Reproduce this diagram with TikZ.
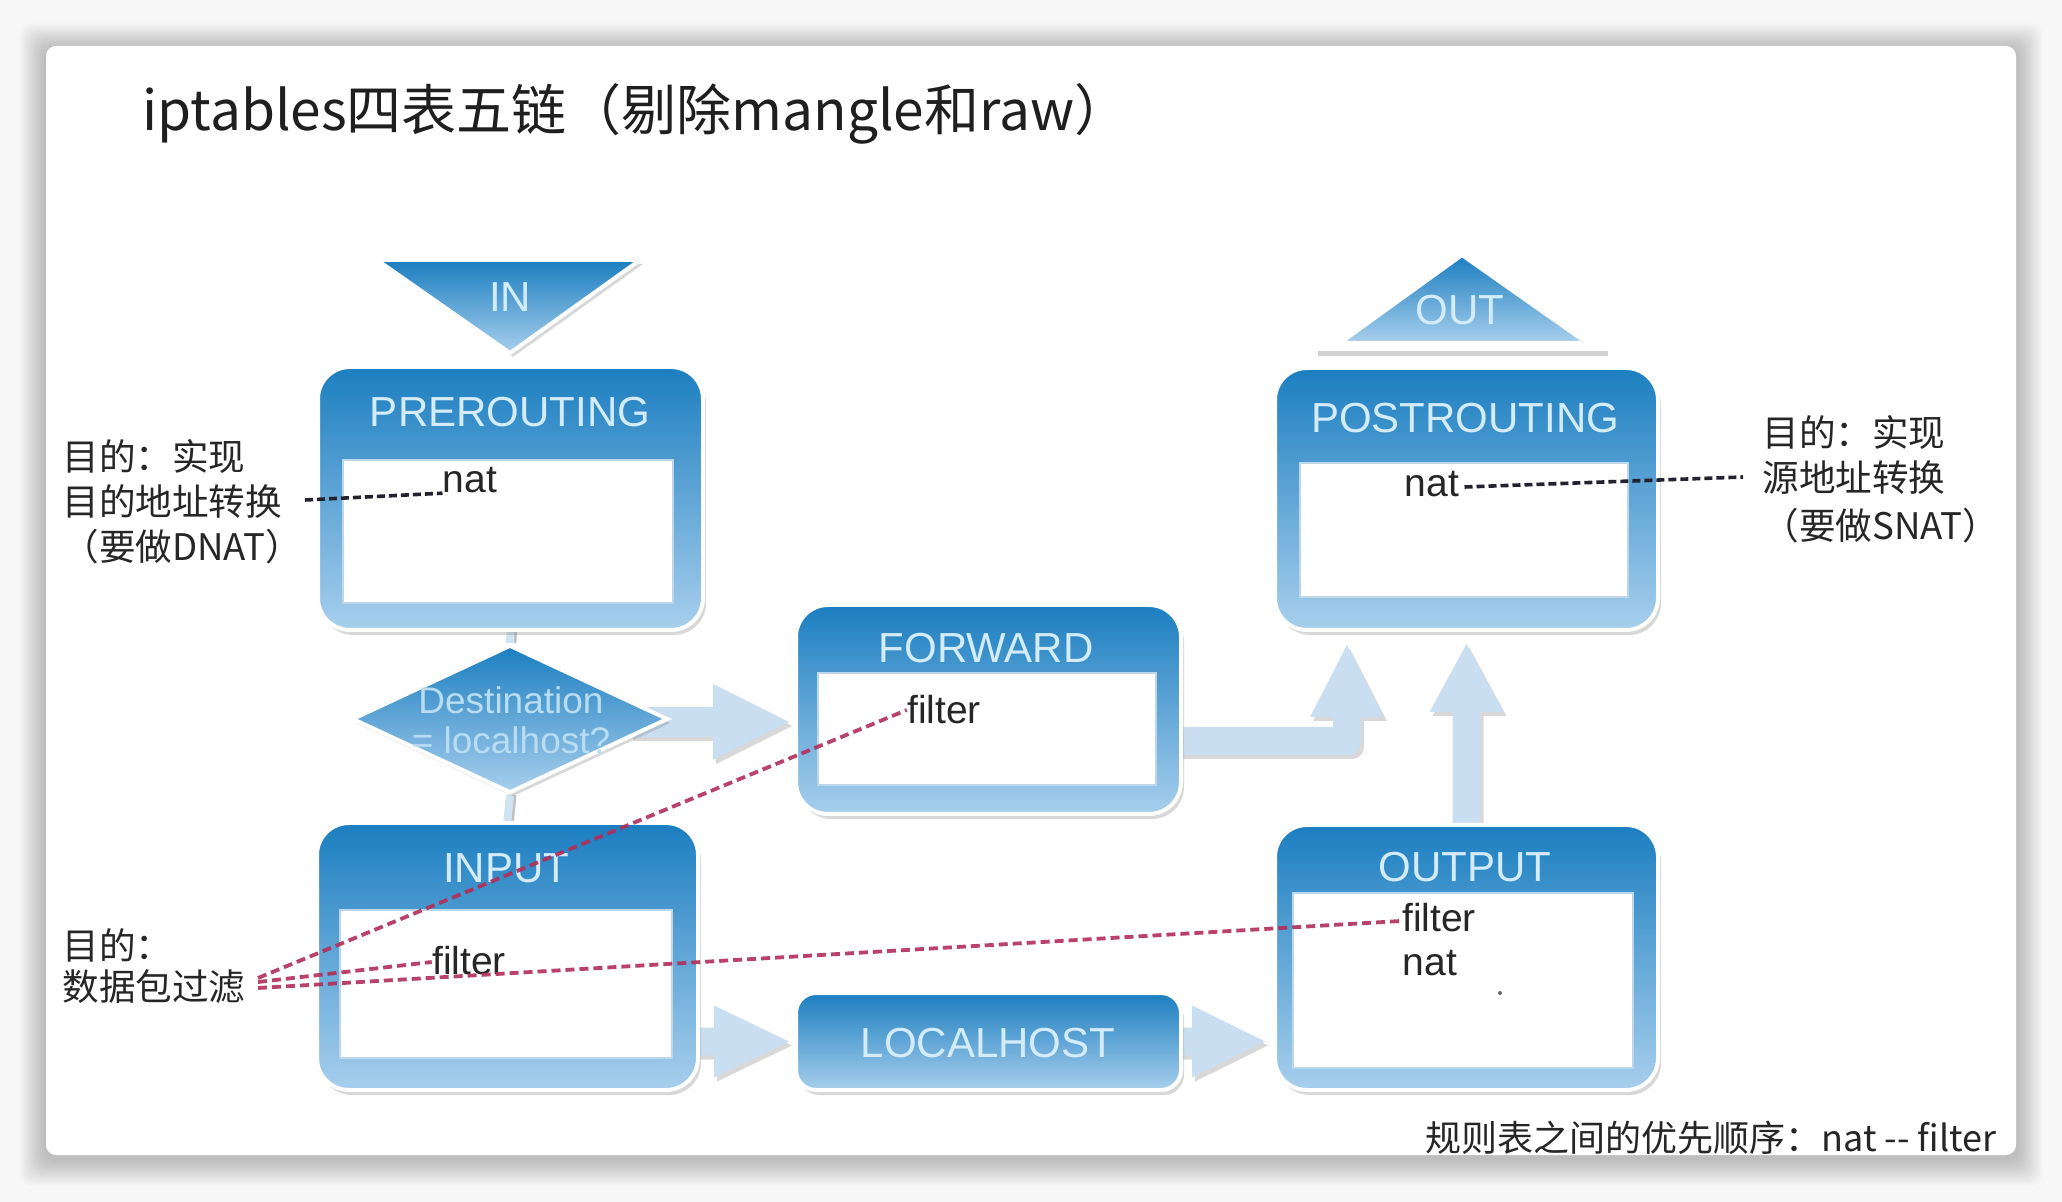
\documentclass[tikz,border=0pt]{standalone}
\usepackage{fontspec}
\setmainfont{Liberation Sans}
\newfontfamily\cjk{Noto Sans CJK SC}
\usetikzlibrary{shapes.geometric,shadows,calc}
\pgfdeclarelayer{bglayer}
\pgfdeclarelayer{arrlayer}
\pgfsetlayers{bglayer,arrlayer,main}
\definecolor{boxtop}{RGB}{27,126,192}
\definecolor{boxbot}{RGB}{168,207,237}
\definecolor{titletxt}{RGB}{212,236,250}
\definecolor{arrowfill}{RGB}{201,222,240}
\definecolor{boxedge}{RGB}{190,214,234}
\definecolor{darkdash}{RGB}{35,35,48}
\definecolor{reddashc}{RGB}{178,46,88}
\definecolor{stemcol}{RGB}{207,227,243}
\tikzset{
  chainbox/.style={rounded corners=16pt, draw=white, line width=2pt, top color=boxtop, bottom color=boxbot,
    drop shadow={shadow xshift=1.5pt, shadow yshift=-2.5pt, opacity=0.3}, inner sep=0pt},
  innerbox/.style={fill=white, draw=boxedge, line width=0.6pt, inner sep=0pt},
  ttl/.style={text=titletxt, font=\fontsize{21pt}{24pt}\selectfont, inner sep=0pt},
  entry/.style={text=black!85, font=\fontsize{19.5pt}{22pt}\selectfont, inner sep=0pt},
  ann/.style={font=\cjk\fontsize{18.3pt}{22pt}\selectfont, text=black!85, inner sep=0pt, anchor=west},
  blockarrow/.style={fill=arrowfill, drop shadow={shadow xshift=1.5pt, shadow yshift=-2pt, opacity=0.3}},
  blackdash/.style={draw=darkdash, line width=1.8pt, dash pattern=on 4pt off 2pt},
  reddash/.style={draw=reddashc, line width=1.9pt, dash pattern=on 4.5pt off 2.5pt, opacity=0.9},
  stem/.style={draw=stemcol, line width=4pt, preaction={draw=black!25, line width=4pt, transform canvas={xshift=1.2pt}}},
}
\begin{document}
\begin{tikzpicture}[x=0.5pt,y=-0.5pt]
\useasboundingbox (0,0) rectangle (2062,1202);
\begin{pgfonlayer}{bglayer}
  \fill[black!3] (0,0) rectangle (2062,1202);
  \foreach \i in {1,...,12}
    \fill[black, opacity=0.02, rounded corners=6pt] ({46-2.2*\i},{50-2.2*\i}) rectangle ({2016+2.2*\i},{1159+2.2*\i});
  \fill[white, rounded corners=5pt] (46,46) rectangle (2016,1155);
\end{pgfonlayer}

% title
\node[anchor=west, inner sep=0pt, font=\cjk\fontsize{27.5pt}{30pt}\selectfont, text=black!88] (title) at (142,114) {iptables四表五链（剔除mangle和raw）};

% IN / OUT triangles
\path[draw=white, line width=2pt, top color=boxtop, bottom color=boxbot,
  drop shadow={shadow xshift=1.5pt, shadow yshift=-2pt, opacity=0.3}]
  (377,260) -- (640,260) -- (510,353) -- cycle;
\node[ttl] (intxt) at (510,297) {IN};
\draw[black!18, line width=2.5pt] (1318,354) -- (1608,354);
\draw[white, line width=2.5pt] (1322,348) -- (1604,348);
\path[draw=white, line width=2pt, top color=boxtop, bottom color=boxbot]
  (1340,343) -- (1587,343) -- (1462,255) -- cycle;
\node[ttl] (outtxt) at (1460,310) {OUT};

% chain boxes
\node[chainbox, minimum width=192.5pt, minimum height=131.5pt] (pre) at (510.5,498.5) {};
\node[innerbox, minimum width=165pt, minimum height=71.5pt] (preIn) at (508,531.5) {};
\node[ttl] (pretitle) at (510,412) {PREROUTING};
\node[entry] (prenat) at (470,480) {nat};

\node[chainbox, minimum width=191.5pt, minimum height=131pt] (post) at (1466.5,499) {};
\node[innerbox, minimum width=164pt, minimum height=67pt] (postIn) at (1464,530) {};
\node[ttl] (posttitle) at (1465,418) {POSTROUTING};
\node[entry] (postnat) at (1432,484) {nat};

\node[diamond, minimum width=158pt, minimum height=74pt, inner sep=0pt, draw=white, line width=2pt,
  top color=boxtop, bottom color=boxbot, drop shadow={shadow xshift=1.5pt, shadow yshift=-2pt, opacity=0.3}] (dia) at (510,719) {};
\node[text=titletxt!85!boxtop, align=center, inner sep=0pt, font=\fontsize{18.5pt}{20pt}\selectfont] (diat) at (511,720) {Destination\\= localhost?};

\node[chainbox, minimum width=192.5pt, minimum height=104.5pt] (fwd) at (988.5,709.5) {};
\node[innerbox, minimum width=169pt, minimum height=56pt] (fwdIn) at (987,729) {};
\node[ttl] (fwdtitle) at (986,648) {FORWARD};
\node[entry] (fwdfilter) at (944,710) {filter};

\node[chainbox, minimum width=190.5pt, minimum height=133.5pt] (inp) at (507.5,956.5) {};
\node[innerbox, minimum width=166pt, minimum height=74pt] (inpIn) at (506,984) {};
\node[ttl] (inptitle) at (506,868) {INPUT};
\node[entry] (inpfilter) at (469,961) {filter};

\node[chainbox, rounded corners=10pt, minimum width=192.5pt, minimum height=48.5pt] (loc) at (988.5,1041.5) {};
\node[ttl] (loctitle) at (988,1043) {LOCALHOST};

\node[chainbox, minimum width=191.5pt, minimum height=132.5pt] (outp) at (1466.5,957.5) {};
\node[innerbox, minimum width=170pt, minimum height=87.5pt] (outIn) at (1463,980.5) {};
\node[ttl] (outtitle) at (1465,867) {OUTPUT};
\node[entry] (outfilter) at (1439,918) {filter};
\node[entry] (outnat) at (1430,963) {nat};
\fill[black!60] (1500,993) circle (1pt);

% arrows and stems
\begin{pgfonlayer}{arrlayer}
  \draw[stem] (pre.south) -- (dia.north);
  \draw[stem] (dia.south) -- (inp.north);
  % diamond -> forward
  \coordinate (a1s) at ($(dia.east)+(-40,3)$);
  \coordinate (a1t) at ($(fwd.west |- a1s)+(-5,0)$);
  \fill[blockarrow] ($(a1s)+(0,-15)$) -- ($(a1t)+(-76,-15)$) -- ($(a1t)+(-76,-38)$) -- (a1t)
    -- ($(a1t)+(-76,38)$) -- ($(a1t)+(-76,15)$) -- ($(a1s)+(0,15)$) -- cycle;
  % input -> localhost
  \coordinate (a2s) at ($(inp.east |- loc.west)+(-10,0)$);
  \coordinate (a2t) at ($(loc.west)+(-5,0)$);
  \fill[blockarrow] ($(a2s)+(0,-14)$) -- ($(a2t)+(-75,-14)$) -- ($(a2t)+(-75,-36)$) -- (a2t)
    -- ($(a2t)+(-75,36)$) -- ($(a2t)+(-75,14)$) -- ($(a2s)+(0,14)$) -- cycle;
  % localhost -> output
  \coordinate (a3s) at ($(loc.east)+(-10,0)$);
  \coordinate (a3t) at ($(outp.west |- loc.east)+(-8,0)$);
  \fill[blockarrow] ($(a3s)+(0,-14)$) -- ($(a3t)+(-73,-14)$) -- ($(a3t)+(-73,-36)$) -- (a3t)
    -- ($(a3t)+(-73,36)$) -- ($(a3t)+(-73,14)$) -- ($(a3s)+(0,14)$) -- cycle;
  % forward -> postrouting (bent)
  \coordinate (a4s) at ($(fwd.east)+(-10,31.5)$);
  \coordinate (a4t) at ($(post.south)+(-119.5,13)$);
  \coordinate (a4c) at (a4t |- a4s);
  \fill[blockarrow] ($(a4s)+(0,-14)$) -- ($(a4c)+(-14,-14)$) -- ($(a4t)+(-14,72)$) -- ($(a4t)+(-37,72)$)
    -- (a4t) -- ($(a4t)+(37,72)$) -- ($(a4t)+(14,72)$) [rounded corners=6pt] -- ($(a4c)+(14,14)$) [sharp corners]
    -- ($(a4s)+(0,14)$) -- cycle;
  % output -> postrouting
  \coordinate (a5s) at ($(outp.north)+(0,10)$);
  \coordinate (a5t) at ($(post.south)+(0,12)$);
  \fill[blockarrow] ($(a5s)+(-14,0)$) -- ($(a5t)+(-14,68)$) -- ($(a5t)+(-37,68)$) -- (a5t)
    -- ($(a5t)+(37,68)$) -- ($(a5t)+(14,68)$) -- ($(a5s)+(14,0)$) -- cycle;
\end{pgfonlayer}

% annotations
\node[ann] (l1a) at (62,457) {目的：实现};
\node[ann] (l1b) at (62,502) {目的地址转换};
\node[ann] (l1c) at (62,547) {（要做DNAT）};
\node[ann] (r1a) at (1762,433) {目的：实现};
\node[ann] (r1b) at (1762,478) {源地址转换};
\node[ann] (r1c) at (1762,526) {（要做SNAT）};
\node[ann] (l2a) at (62,945) {目的：};
\node[ann] (l2b) at (62,987) {数据包过滤};
\node[anchor=east, inner sep=0pt, font=\cjk\fontsize{18pt}{20pt}\selectfont, text=black!85] (prio) at (1997,1138) {规则表之间的优先顺序：nat -{}- filter};

% dashed leader lines
\coordinate (dl) at (305,500);
\draw[blackdash] (dl) -- (prenat.south west);
\coordinate (dr) at (1743,477);
\draw[blackdash] ($(postnat.east)+(5,3)$) -- (dr);
\coordinate (r1) at (258,978);
\coordinate (r2) at (258,982);
\coordinate (r3) at (258,988);
\draw[reddash] (r1) -- (fwdfilter.west);
\draw[reddash] (r2) -- ($(inpfilter.west)+(0,1)$);
\draw[reddash] (r3) -- ($(outfilter.west)+(-1,3)$);
\end{tikzpicture}
\end{document}
